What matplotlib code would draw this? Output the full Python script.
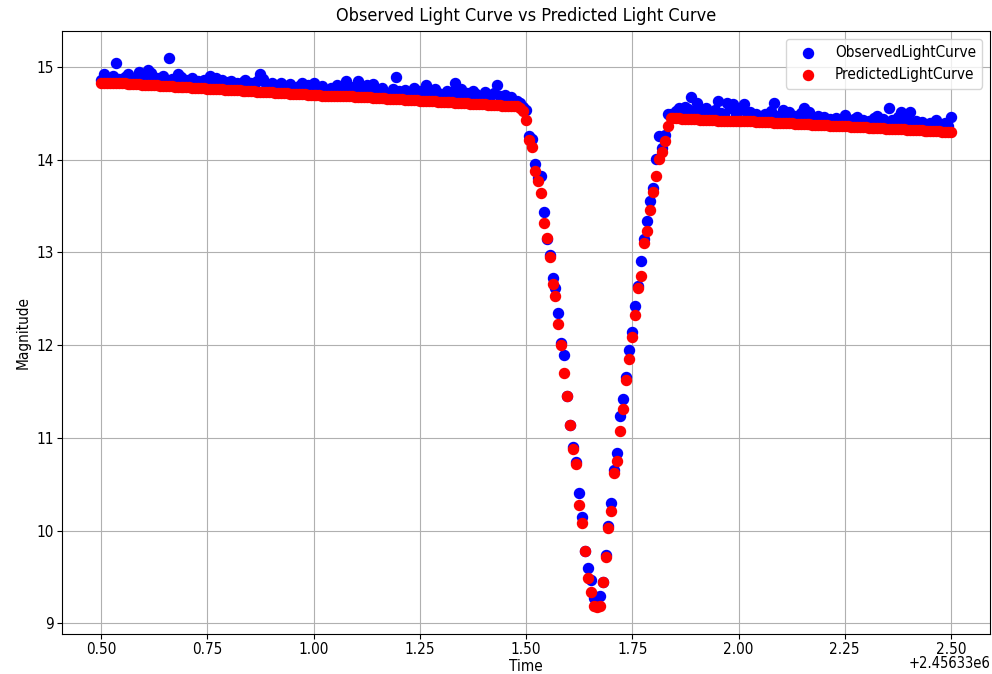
import matplotlib
matplotlib.use("Agg")
import matplotlib.pyplot as plt
import numpy as np

time_offset = 2456330.0

# Observation times (days, relative to time_offset)
time_rel = [
    0.500, 0.507, 0.514, 0.521, 0.528, 0.535, 0.542, 0.549, 0.556, 0.563, 0.569, 0.576,
    0.583, 0.590, 0.597, 0.604, 0.611, 0.618, 0.625, 0.632, 0.639, 0.646, 0.653, 0.660,
    0.667, 0.674, 0.681, 0.688, 0.694, 0.701, 0.708, 0.715, 0.722, 0.729, 0.736, 0.743,
    0.750, 0.757, 0.764, 0.771, 0.778, 0.785, 0.792, 0.799, 0.806, 0.813, 0.819, 0.826,
    0.833, 0.840, 0.847, 0.854, 0.861, 0.868, 0.875, 0.882, 0.889, 0.896, 0.903, 0.910,
    0.917, 0.924, 0.931, 0.938, 0.944, 0.951, 0.958, 0.965, 0.972, 0.979, 0.986, 0.993,
    1.000, 1.007, 1.014, 1.021, 1.028, 1.035, 1.042, 1.049, 1.056, 1.063, 1.069, 1.076,
    1.083, 1.090, 1.097, 1.104, 1.111, 1.118, 1.125, 1.132, 1.139, 1.146, 1.153, 1.160,
    1.167, 1.174, 1.181, 1.188, 1.194, 1.201, 1.208, 1.215, 1.222, 1.229, 1.236, 1.243,
    1.250, 1.257, 1.264, 1.271, 1.278, 1.285, 1.292, 1.299, 1.306, 1.313, 1.319, 1.326,
    1.333, 1.340, 1.347, 1.354, 1.361, 1.368, 1.375, 1.382, 1.389, 1.396, 1.403, 1.410,
    1.417, 1.424, 1.431, 1.438, 1.444, 1.451, 1.458, 1.465, 1.472, 1.479, 1.486, 1.493,
    1.500, 1.507, 1.514, 1.521, 1.528, 1.535, 1.542, 1.549, 1.556, 1.563, 1.569, 1.576,
    1.583, 1.590, 1.597, 1.604, 1.611, 1.618, 1.625, 1.632, 1.639, 1.646, 1.653, 1.660,
    1.667, 1.674, 1.681, 1.688, 1.694, 1.701, 1.708, 1.715, 1.722, 1.729, 1.736, 1.743,
    1.750, 1.757, 1.764, 1.771, 1.778, 1.785, 1.792, 1.799, 1.806, 1.813, 1.819, 1.826,
    1.833, 1.840, 1.847, 1.854, 1.861, 1.868, 1.875, 1.882, 1.889, 1.896, 1.903, 1.910,
    1.917, 1.924, 1.931, 1.938, 1.944, 1.951, 1.958, 1.965, 1.972, 1.979, 1.986, 1.993,
    2.000, 2.007, 2.014, 2.021, 2.028, 2.035, 2.042, 2.049, 2.056, 2.063, 2.069, 2.076,
    2.083, 2.090, 2.097, 2.104, 2.111, 2.118, 2.125, 2.132, 2.139, 2.146, 2.153, 2.160,
    2.167, 2.174, 2.181, 2.188, 2.194, 2.201, 2.208, 2.215, 2.222, 2.229, 2.236, 2.243,
    2.250, 2.257, 2.264, 2.271, 2.278, 2.285, 2.292, 2.299, 2.306, 2.313, 2.319, 2.326,
    2.333, 2.340, 2.347, 2.354, 2.361, 2.368, 2.375, 2.382, 2.389, 2.396, 2.403, 2.410,
    2.417, 2.424, 2.431, 2.438, 2.444, 2.451, 2.458, 2.465, 2.472, 2.479, 2.486, 2.493,
    2.500,
]

observed_mag = [
    14.86, 14.92, 14.88, 14.85, 14.90, 15.04, 14.87, 14.84, 14.89, 14.92, 14.86, 14.88,
    14.85, 14.94, 14.90, 14.86, 14.97, 14.93, 14.84, 14.88, 14.85, 14.90, 14.86, 15.09,
    14.87, 14.84, 14.92, 14.89, 14.83, 14.86, 14.82, 14.88, 14.84, 14.85, 14.81, 14.86,
    14.83, 14.90, 14.84, 14.88, 14.82, 14.86, 14.80, 14.84, 14.85, 14.81, 14.83, 14.79,
    14.84, 14.86, 14.80, 14.83, 14.78, 14.85, 14.92, 14.87, 14.81, 14.78, 14.83, 14.80,
    14.77, 14.82, 14.79, 14.76, 14.81, 14.78, 14.75, 14.79, 14.83, 14.76, 14.80, 14.74,
    14.82, 14.77, 14.74, 14.79, 14.75, 14.73, 14.77, 14.74, 14.80, 14.76, 14.72, 14.85,
    14.75, 14.78, 14.73, 14.85, 14.77, 14.72, 14.80, 14.76, 14.81, 14.74, 14.71, 14.77,
    14.73, 14.70, 14.72, 14.76, 14.89, 14.74, 14.70, 14.75, 14.72, 14.69, 14.77, 14.71,
    14.74, 14.70, 14.80, 14.73, 14.69, 14.76, 14.72, 14.68, 14.71, 14.74, 14.67, 14.73,
    14.83, 14.70, 14.76, 14.68, 14.72, 14.66, 14.74, 14.71, 14.67, 14.69, 14.73, 14.66,
    14.70, 14.72, 14.80, 14.68, 14.65, 14.70, 14.63, 14.67, 14.62, 14.63, 14.61, 14.57,
    14.53, 14.25, 14.22, 13.95, 13.80, 13.82, 13.43, 13.14, 12.97, 12.72, 12.62, 12.35,
    12.02, 11.89, 11.45, 11.14, 10.90, 10.74, 10.40, 10.15, 9.78, 9.60, 9.47, 9.27,
    9.28, 9.29, 9.44, 9.74, 10.05, 10.30, 10.65, 10.84, 11.24, 11.42, 11.66, 11.95,
    12.14, 12.42, 12.64, 12.91, 13.14, 13.34, 13.55, 13.69, 14.01, 14.25, 14.12, 14.26,
    14.49, 14.49, 14.47, 14.52, 14.56, 14.50, 14.57, 14.54, 14.67, 14.52, 14.61, 14.53,
    14.49, 14.55, 14.51, 14.47, 14.53, 14.63, 14.50, 14.48, 14.61, 14.56, 14.60, 14.49,
    14.54, 14.55, 14.60, 14.50, 14.51, 14.46, 14.49, 14.45, 14.47, 14.49, 14.44, 14.52,
    14.61, 14.47, 14.45, 14.53, 14.48, 14.51, 14.44, 14.47, 14.43, 14.50, 14.56, 14.46,
    14.51, 14.44, 14.42, 14.47, 14.43, 14.46, 14.41, 14.44, 14.42, 14.45, 14.40, 14.43,
    14.48, 14.42, 14.39, 14.44, 14.46, 14.41, 14.43, 14.38, 14.42, 14.40, 14.45, 14.47,
    14.41, 14.44, 14.39, 14.56, 14.43, 14.40, 14.46, 14.51, 14.41, 14.44, 14.51, 14.38,
    14.42, 14.36, 14.40, 14.37, 14.34, 14.39, 14.35, 14.43, 14.37, 14.33, 14.39, 14.36,
    14.46,
]

predicted_mag = [
    14.83, 14.83, 14.83, 14.82, 14.82, 14.82, 14.82, 14.82, 14.82, 14.81, 14.81, 14.81,
    14.81, 14.81, 14.80, 14.80, 14.80, 14.80, 14.80, 14.80, 14.79, 14.79, 14.79, 14.79,
    14.79, 14.78, 14.78, 14.78, 14.78, 14.78, 14.78, 14.77, 14.77, 14.77, 14.77, 14.77,
    14.76, 14.76, 14.76, 14.76, 14.76, 14.76, 14.75, 14.75, 14.75, 14.75, 14.75, 14.75,
    14.74, 14.74, 14.74, 14.74, 14.74, 14.73, 14.73, 14.73, 14.73, 14.73, 14.73, 14.72,
    14.72, 14.72, 14.72, 14.72, 14.71, 14.71, 14.71, 14.71, 14.71, 14.71, 14.70, 14.70,
    14.70, 14.70, 14.70, 14.69, 14.69, 14.69, 14.69, 14.69, 14.69, 14.68, 14.68, 14.68,
    14.68, 14.68, 14.67, 14.67, 14.67, 14.67, 14.67, 14.67, 14.66, 14.66, 14.66, 14.66,
    14.66, 14.65, 14.65, 14.65, 14.65, 14.65, 14.65, 14.64, 14.64, 14.64, 14.64, 14.64,
    14.63, 14.63, 14.63, 14.63, 14.63, 14.63, 14.62, 14.62, 14.62, 14.62, 14.62, 14.62,
    14.61, 14.61, 14.61, 14.61, 14.61, 14.60, 14.60, 14.60, 14.60, 14.60, 14.60, 14.59,
    14.59, 14.59, 14.59, 14.59, 14.58, 14.58, 14.58, 14.58, 14.58, 14.58, 14.56, 14.52,
    14.43, 14.21, 14.14, 13.88, 13.77, 13.64, 13.32, 13.15, 12.95, 12.66, 12.53, 12.23,
    12.00, 11.70, 11.45, 11.14, 10.88, 10.72, 10.27, 10.08, 9.78, 9.49, 9.34, 9.19,
    9.18, 9.19, 9.44, 9.72, 10.03, 10.21, 10.62, 10.75, 11.07, 11.31, 11.62, 11.85,
    12.09, 12.32, 12.62, 12.74, 13.10, 13.23, 13.46, 13.65, 13.82, 14.01, 14.08, 14.20,
    14.36, 14.45, 14.45, 14.45, 14.45, 14.44, 14.44, 14.44, 14.44, 14.44, 14.44, 14.43,
    14.43, 14.43, 14.43, 14.43, 14.43, 14.42, 14.42, 14.42, 14.42, 14.42, 14.42, 14.42,
    14.41, 14.41, 14.41, 14.41, 14.41, 14.41, 14.40, 14.40, 14.40, 14.40, 14.40, 14.40,
    14.39, 14.39, 14.39, 14.39, 14.39, 14.39, 14.39, 14.38, 14.38, 14.38, 14.38, 14.38,
    14.38, 14.37, 14.37, 14.37, 14.37, 14.37, 14.37, 14.36, 14.36, 14.36, 14.36, 14.36,
    14.36, 14.36, 14.35, 14.35, 14.35, 14.35, 14.35, 14.35, 14.34, 14.34, 14.34, 14.34,
    14.34, 14.34, 14.33, 14.33, 14.33, 14.33, 14.33, 14.33, 14.33, 14.32, 14.32, 14.32,
    14.32, 14.32, 14.32, 14.31, 14.31, 14.31, 14.31, 14.31, 14.31, 14.30, 14.30, 14.30,
    14.30,
]

title_text = "Observed Light Curve vs Predicted Light Curve"
series_labels = ["ObservedLightCurve", "PredictedLightCurve"]

plt.rcParams["font.family"] = ["DejaVu Sans"]
plt.rcParams["font.stretch"] = "condensed"

times = np.array(time_rel) + time_offset

fig = plt.figure(figsize=(9.92, 6.74), dpi=100)
ax = fig.add_axes([62 / 992, 40 / 674, 928 / 992, 603 / 674])

ax.scatter(times, observed_mag, color="blue", s=52, label=series_labels[0], zorder=2)
ax.scatter(times, predicted_mag, color="red", s=52, label=series_labels[1], zorder=3)

pad_x = 39 / 425
ax.set_xlim(time_offset + time_rel[0] - pad_x, time_offset + time_rel[-1] + pad_x)

ax.set_title(title_text, fontsize=13, pad=7)
ax.set_xlabel("Time", fontsize=11, labelpad=1)
ax.set_ylabel("Magnitude", fontsize=11)
ax.tick_params(labelsize=11, pad=2.5)
ax.grid(True, color="#b0b0b0", linewidth=0.8)
ax.set_axisbelow(True)
ax.legend(loc="upper right", fontsize=11)

# Place the x offset text ("+2.45633e6") just below the last tick label
fig.canvas.draw()
offset_str = ax.xaxis.get_major_formatter().get_offset()
ax.xaxis.get_offset_text().set_visible(False)
fig.text(990 / 992, 1 - 664 / 674, offset_str, ha="right", va="center", fontsize=10.5)

fig.savefig("out.png", dpi=100)
